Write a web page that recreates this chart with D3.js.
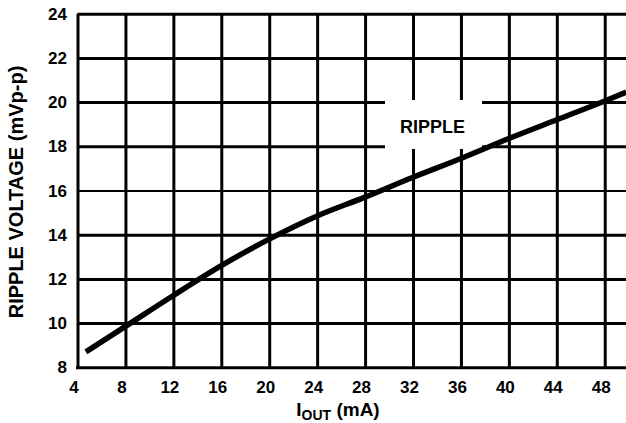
<!DOCTYPE html>
<html>
<head>
<meta charset="utf-8">
<script src="https://cdn.jsdelivr.net/npm/d3@7"></script>
<style>
  body { margin: 0; background: #fff; }
  svg { display: block; }
  text { font-family: "Liberation Sans", Arial, sans-serif; font-weight: bold; fill: #000; }
</style>
</head>
<body>
<div id="chart"></div>
<script>
// ripple voltage vs output current
var xTicks = [4, 8, 12, 16, 20, 24, 28, 32, 36, 40, 44, 48];
var yTicks = [8, 10, 12, 14, 16, 18, 20, 22, 24];

var ioutMA   = [4.7, 8, 12, 16, 20, 24, 28, 32, 36, 40, 44, 48, 49.8];
var rippleMV = [8.7, 9.85, 11.25, 12.6, 13.8, 14.85, 15.7, 16.6, 17.45, 18.35, 19.2, 20.05, 20.45];

var curveLabel = "RIPPLE";

var W = 626, H = 423;
// plot box (right edge runs off the picture, like the original crop)
var pLeft = 77.5, pRight = 628.7, pTop = 13.7, pBottom = 367.3;

var svg = d3.select("#chart").append("svg")
  .attr("width", W)
  .attr("height", H);

var x = d3.scaleLinear().domain([4, 50]).range([pLeft, pRight]);
var y = d3.scaleLinear().domain([8, 24]).range([pBottom, pTop]);

// vertical grid (axis ticks stretched up the plot)
var gx = svg.append("g")
  .attr("transform", "translate(0," + pBottom + ")")
  .call(d3.axisBottom(x).tickValues(xTicks).tickSize(-(pBottom - pTop)).tickFormat(""));
gx.select(".domain").remove();
gx.selectAll(".tick line").attr("stroke", "#000").attr("stroke-width", 3);

// horizontal grid
var gy = svg.append("g")
  .attr("transform", "translate(" + pLeft + ",0)")
  .call(d3.axisLeft(y).tickValues(yTicks).tickSize(-(W - pLeft)).tickFormat(""));
gy.select(".domain").remove();
gy.selectAll(".tick line")
  .attr("stroke", "#000")
  .attr("stroke-width", d => d == 16 ? 2 : 3)
  .attr("x1", d => d == 8 ? -1.5 : 0);

// white patch behind the curve label
svg.append("rect")
  .attr("x", 385)
  .attr("y", 100)
  .attr("width", 97)
  .attr("height", 49)
  .attr("fill", "#fff");

svg.append("text")
  .attr("x", 432.5)
  .attr("y", 133)
  .attr("text-anchor", "middle")
  .attr("font-size", 18)
  .text(curveLabel);

// the ripple curve
var line = d3.line()
  .x((d, i) => x(ioutMA[i]))
  .y(d => y(d))
  .curve(d3.curveMonotoneX);

svg.append("path")
  .datum(rippleMV)
  .attr("d", line)
  .attr("fill", "none")
  .attr("stroke", "#000")
  .attr("stroke-width", 5.5);

// tick labels
svg.append("g").selectAll("text")
  .data(xTicks).enter().append("text")
  .attr("x", d => x(d) - 3.5)
  .attr("y", 393)
  .attr("text-anchor", "middle")
  .attr("font-size", 17)
  .text(d => d);

svg.append("g").selectAll("text")
  .data(yTicks).enter().append("text")
  .attr("x", 67)
  .attr("y", d => y(d))
  .attr("dy", "0.36em")
  .attr("text-anchor", "end")
  .attr("font-size", 17)
  .text(d => d);

// axis titles
var xt = svg.append("text")
  .attr("x", 338)
  .attr("y", 416)
  .attr("text-anchor", "middle")
  .attr("font-size", 19);
xt.append("tspan").text("I");
xt.append("tspan").attr("font-size", 14).attr("dy", 4).text("OUT");
xt.append("tspan").attr("dy", -4).text(" (mA)");

svg.append("text")
  .attr("transform", "translate(23,192) rotate(-90)")
  .attr("text-anchor", "middle")
  .attr("font-size", 20)
  .text("RIPPLE VOLTAGE (mVp-p)");
</script>
</body>
</html>
